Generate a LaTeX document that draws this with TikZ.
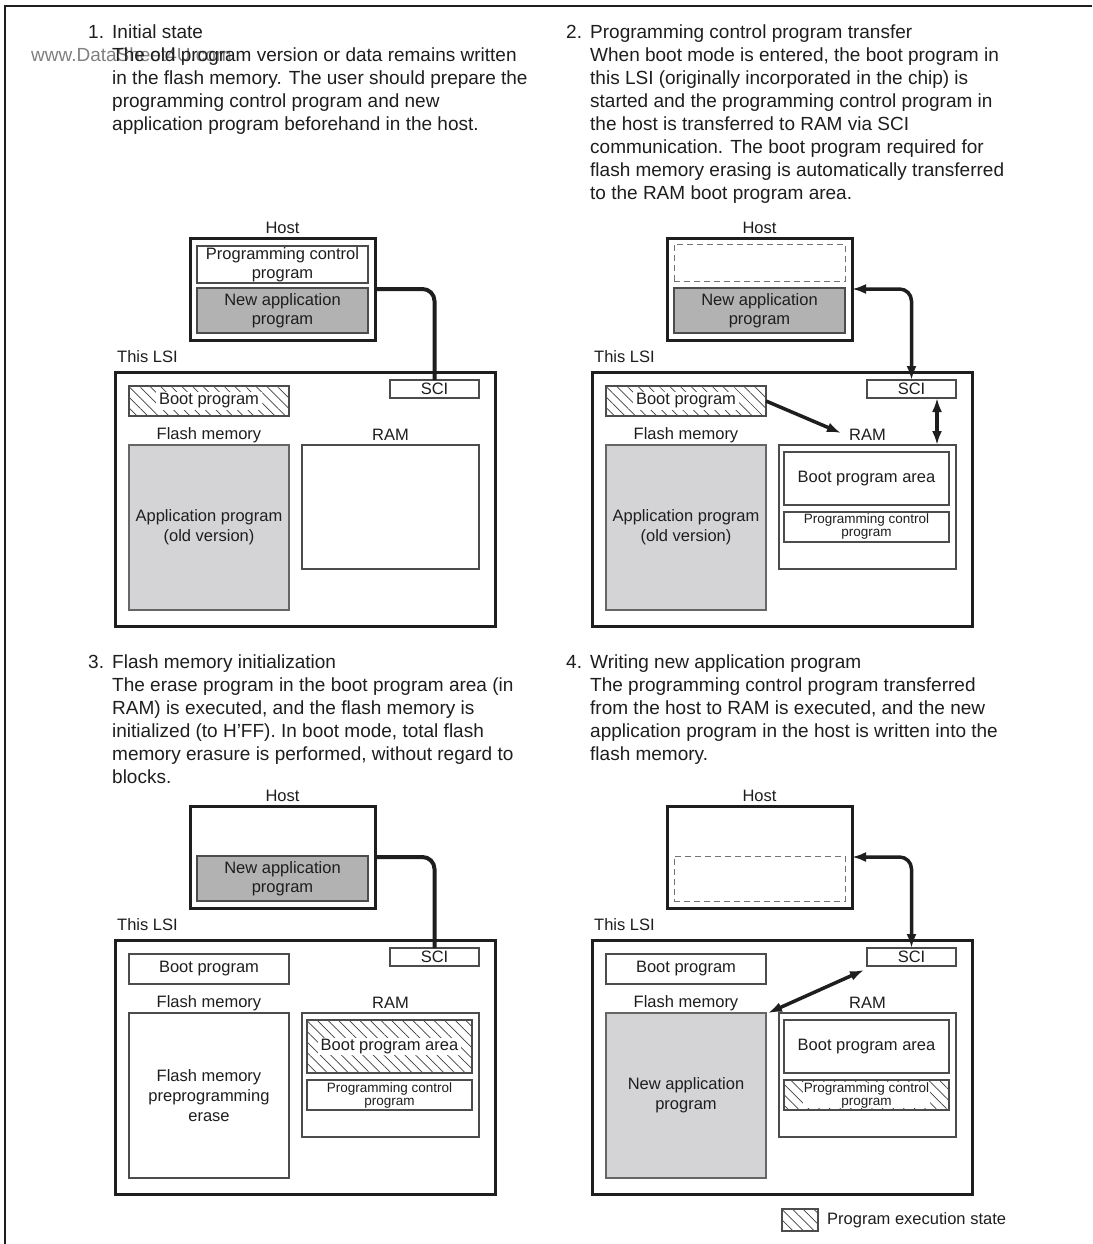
\documentclass[tikz,border=0pt]{standalone}
\usepackage{fontspec}
\setmainfont{Liberation Sans}
\usetikzlibrary{arrows.meta,patterns.meta,calc}
\definecolor{darkfill}{RGB}{178,178,178}
\definecolor{lightfill}{RGB}{212,212,214}
\definecolor{inkc}{RGB}{30,30,30}
\newcommand\bodyfnt{\fontsize{19}{23}\selectfont}
\newcommand\boxfnt{\fontsize{16.5}{18.5}\selectfont}
\newcommand\flashfnt{\fontsize{16.5}{20}\selectfont}
\newcommand\smallfnt{\fontsize{13.5}{13}\selectfont}
\begin{document}
\begin{tikzpicture}[x=1pt,y=-1pt,
  every node/.style={font=\boxfnt, text=inkc},
  bx/.style 2 args={minimum width=#1pt, minimum height=#2pt, inner sep=0pt, outer sep=0pt, align=center},
  outerbox/.style={draw=inkc, line width=3pt},
  inbox/.style={draw=black!70, line width=1.1pt, fill=white},
  darkbox/.style={draw=black!70, line width=1.1pt, fill=darkfill},
  lightbox/.style={draw=black!60, line width=1.1pt, fill=lightfill},
  dashbox/.style={draw=black!55, line width=1pt, dash pattern=on 6pt off 4pt},
  hatchbox/.style={draw=black!70, line width=1.1pt, pattern={Lines[angle=-45,distance=7.5pt,line width=0.7pt]}, pattern color=black!75},
  whitetxt/.style={fill=white, inner xsep=3pt, inner ysep=1.5pt},
  lbl/.style={inner sep=0pt},
  para/.style={font=\bodyfnt, align=left, anchor=north west, inner sep=0pt},
  conn/.style={draw=inkc, line width=4pt, rounded corners=12pt},
  arr/.style={draw=inkc, line width=3.5pt, {Latex[length=14pt,width=10pt]}-{Latex[length=14pt,width=10pt]}},
  arrone/.style={draw=inkc, line width=3.5pt, -{Latex[length=14pt,width=10pt]}}
]
\useasboundingbox (0,0) rectangle (1092,1244);
\fill[white] (0,0) rectangle (1092,1244);
\draw[line width=2.5pt, inkc] (5,1244) -- (5,6) -- (1092,6);

% ---------- headers ----------
\node[font=\bodyfnt, anchor=base west, inner sep=0pt, text=black!50] (wm) at (31,62) {www.DataSheet4U.com};
\node[para] (n1) at (88,25) {1.};
\node[para] (p1) at (112,25) {Initial state\\The old program version or data remains written\\in the flash memory. The user should prepare the\\programming control program and new\\application program beforehand in the host.};
\node[para] (n2) at (566,25) {2.};
\node[para] (p2) at (590,25) {Programming control program transfer\\When boot mode is entered, the boot program in\\this LSI (originally incorporated in the chip) is\\started and the programming control program in\\the host is transferred to RAM via SCI\\communication. The boot program required for\\flash memory erasing is automatically transferred\\to the RAM boot program area.};
\node[para] (n3) at (88,655) {3.};
\node[para] (p3) at (112,655) {Flash memory initialization\\The erase program in the boot program area (in\\RAM) is executed, and the flash memory is\\initialized (to H'FF). In boot mode, total flash\\memory erasure is performed, without regard to\\blocks.};
\node[para] (n4) at (566,655) {4.};
\node[para] (p4) at (590,655) {Writing new application program\\The programming control program transferred\\from the host to RAM is executed, and the new\\application program in the host is written into the\\flash memory.};

% ---------- panel 1 ----------
\node[lbl] (hl1) at (282.5,228) {Host};
\node[outerbox, bx={185}{102}] (host1) at (282.5,289) {};
\node[inbox, bx={171}{37}] (pcph1) at (282.5,264.5) {Programming control\\program};
\node[darkbox, bx={171}{45}] (nap1) at (282.5,310.5) {New application\\program};
\node[lbl, anchor=west] (ll1) at (117,357) {This LSI};
\node[outerbox, bx={380}{254}] (lsi1) at (305,499) {};
\node[inbox, bx={89}{18}] (sci1) at (434.5,389) {SCI};
\node[hatchbox, bx={160}{30}] (boot1) at (209,401) {};
\node[whitetxt] (boot1t) at (boot1) {Boot program};
\node[lbl] (fl1) at (209,435) {Flash memory};
\node[lightbox, bx={160}{165}, font=\flashfnt] (flash1) at (209,527.5) {Application program\\(old version)};
\node[lbl] (rl1) at (390.5,435) {RAM};
\node[inbox, bx={177}{124}] (ram1) at (390.5,507) {};
\draw[conn] (host1.east) -| (sci1.north);

% ---------- panel 2 ----------
\node[lbl] (hl2) at (759.5,228) {Host};
\node[outerbox, bx={185}{102}] (host2) at (759.5,289) {};
\node[dashbox, bx={171}{37}] (dash2) at (759.5,262.5) {};
\node[darkbox, bx={171}{45}] (nap2) at (759.5,310.5) {New application\\program};
\node[lbl, anchor=west] (ll2) at (594,357) {This LSI};
\node[outerbox, bx={380}{254}] (lsi2) at (782,499) {};
\node[inbox, bx={89}{18}] (sci2) at (911.5,389) {SCI};
\node[hatchbox, bx={160}{30}] (boot2) at (686,401) {};
\node[whitetxt] (boot2t) at (boot2) {Boot program};
\node[lbl] (fl2) at (686,435) {Flash memory};
\node[lightbox, bx={160}{165}, font=\flashfnt] (flash2) at (686,527.5) {Application program\\(old version)};
\node[lbl] (rl2) at (867.5,435) {RAM};
\node[inbox, bx={177}{124}] (ram2) at (867.5,507) {};
\node[inbox, bx={165}{53}] (bpa2) at (866.5,478.5) {Boot program area};
\node[inbox, bx={165}{30}, font=\smallfnt] (pcp2) at (866.5,527) {Programming control\\program};
\draw[arr, rounded corners=12pt] (host2.east) -| (sci2.north);
\draw[arrone] (boot2.east) -- ([xshift=-8pt,yshift=2pt]rl2.west);
\draw[arr] ([xshift=-19pt]sci2.south east) -- ([xshift=-19pt]sci2.south east |- ram2.north);

% ---------- panel 3 ----------
\node[lbl] (hl3) at (282.5,796) {Host};
\node[outerbox, bx={185}{102}] (host3) at (282.5,857) {};
\node[darkbox, bx={171}{45}] (nap3) at (282.5,878.5) {New application\\program};
\node[lbl, anchor=west] (ll3) at (117,925) {This LSI};
\node[outerbox, bx={380}{254}] (lsi3) at (305,1067) {};
\node[inbox, bx={89}{18}] (sci3) at (434.5,957) {SCI};
\node[inbox, bx={160}{30}] (boot3) at (209,969) {Boot program};
\node[lbl] (fl3) at (209,1003) {Flash memory};
\node[inbox, bx={160}{165}, font=\flashfnt] (flash3) at (209,1095.5) {Flash memory\\preprogramming\\erase};
\node[lbl] (rl3) at (390.5,1003) {RAM};
\node[inbox, bx={177}{124}] (ram3) at (390.5,1075) {};
\node[hatchbox, bx={165}{53}] (bpa3) at (389.5,1046.5) {};
\node[whitetxt] (bpa3t) at (bpa3) {Boot program area};
\node[inbox, bx={165}{30}, font=\smallfnt] (pcp3) at (389.5,1095) {Programming control\\program};
\draw[conn] (host3.east) -| (sci3.north);

% ---------- panel 4 ----------
\node[lbl] (hl4) at (759.5,796) {Host};
\node[outerbox, bx={185}{102}] (host4) at (759.5,857) {};
\node[dashbox, bx={171}{45}] (dash4) at (759.5,878.5) {};
\node[lbl, anchor=west] (ll4) at (594,925) {This LSI};
\node[outerbox, bx={380}{254}] (lsi4) at (782,1067) {};
\node[inbox, bx={89}{18}] (sci4) at (911.5,957) {SCI};
\node[inbox, bx={160}{30}] (boot4) at (686,969) {Boot program};
\node[lbl] (fl4) at (686,1003) {Flash memory};
\node[lightbox, bx={160}{165}, font=\flashfnt] (flash4) at (686,1095.5) {New application\\program};
\node[lbl] (rl4) at (867.5,1003) {RAM};
\node[inbox, bx={177}{124}] (ram4) at (867.5,1075) {};
\node[inbox, bx={165}{53}] (bpa4) at (866.5,1046.5) {Boot program area};
\node[hatchbox, bx={165}{30}] (pcp4) at (866.5,1095) {};
\node[whitetxt, font=\smallfnt, align=center, inner sep=0.5pt] (pcp4t) at (pcp4) {Programming control\\program};
\draw[arr, rounded corners=12pt] (host4.east) -| (sci4.north);
\draw[arr] ([xshift=2pt]flash4.north east) -- ([xshift=-3pt,yshift=-4pt]sci4.south west);

% ---------- legend ----------
\node[hatchbox, bx={36}{22}] (leg) at (800,1220) {};
\node[lbl, anchor=west] (legt) at ([xshift=9pt]leg.east) {Program execution state};
\end{tikzpicture}
\end{document}
